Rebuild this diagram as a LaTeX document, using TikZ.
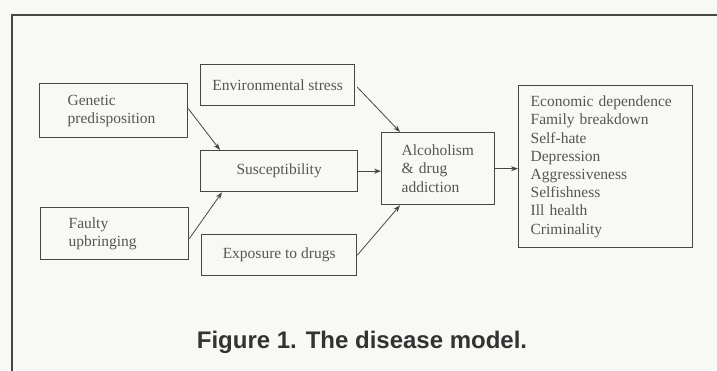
\documentclass[tikz,border=0pt]{standalone}
\usepackage{fontspec}
\setmainfont{Liberation Serif}
\newfontfamily\capfont{Liberation Sans}
\usetikzlibrary{arrows.meta,calc}
\definecolor{paper}{RGB}{248,249,245}
\definecolor{ink}{RGB}{70,70,70}
\definecolor{txt}{RGB}{85,85,85}
\tikzset{
  box/.style={draw=ink, line width=1.3pt, rectangle, anchor=north west, inner sep=0pt,
    font=\fontsize{15.5}{18.2}\selectfont, text=txt, align=left},
  arr/.style={draw=ink, line width=0.8pt, -{Stealth[length=7pt,width=5pt]}}
}
\begin{document}
\begin{tikzpicture}[x=1pt,y=-1pt]
\fill[paper] (0,0) rectangle (717,370);
\useasboundingbox (0,0) rectangle (717,370);
% outer frame (open at right and bottom)
\draw[ink, line width=2.4pt] (12,372) -- (12,15) -- (719,15);

\node[box, minimum width=148pt, minimum height=54pt, text width=92pt] (gen) at (39,83) {Genetic\\predisposition};
\node[box, minimum width=154pt, minimum height=41pt, align=center] (env) at (200,64) {Environmental stress};
\node[box, minimum width=157pt, minimum height=41pt, align=center] (sus) at (200,150) {Susceptibility};
\node[box, minimum width=148pt, minimum height=52pt, text width=92pt] (fau) at (40,207) {Faulty\\upbringing};
\node[box, minimum width=155pt, minimum height=41pt, align=center] (exp) at (201,234) {Exposure to drugs};
\node[box, minimum width=113pt, minimum height=72pt, text width=73pt] (alc) at (381,132) {Alcoholism\\\& drug\\addiction};
\node[box, minimum width=174pt, minimum height=162pt, text width=150pt] (out) at (518,85)
  {Economic dependence\\Family breakdown\\Self-hate\\Depression\\Aggressiveness\\Selfishness\\Ill health\\Criminality};

\draw[arr] ([yshift=2pt]gen.east) -- ([xshift=20pt]sus.north west);
\draw[arr] ([yshift=-5pt]fau.east) -- ([xshift=22pt]sus.south west);
\draw[arr] ([xshift=2pt,yshift=-2pt]env.east) -- ([xshift=19pt]alc.north west);
\draw[arr] (sus.east) -- (sus.east -| alc.west);
\draw[arr] (exp.east) -- ([xshift=19pt]alc.south west);
\draw[arr] (alc.east) -- (alc.east -| out.west);

\node[anchor=base, font=\capfont\bfseries\fontsize{24}{28}\selectfont, text=black!80, inner sep=0pt] (cap) at (362,348) {Figure 1. The disease model.};
\end{tikzpicture}
\end{document}
